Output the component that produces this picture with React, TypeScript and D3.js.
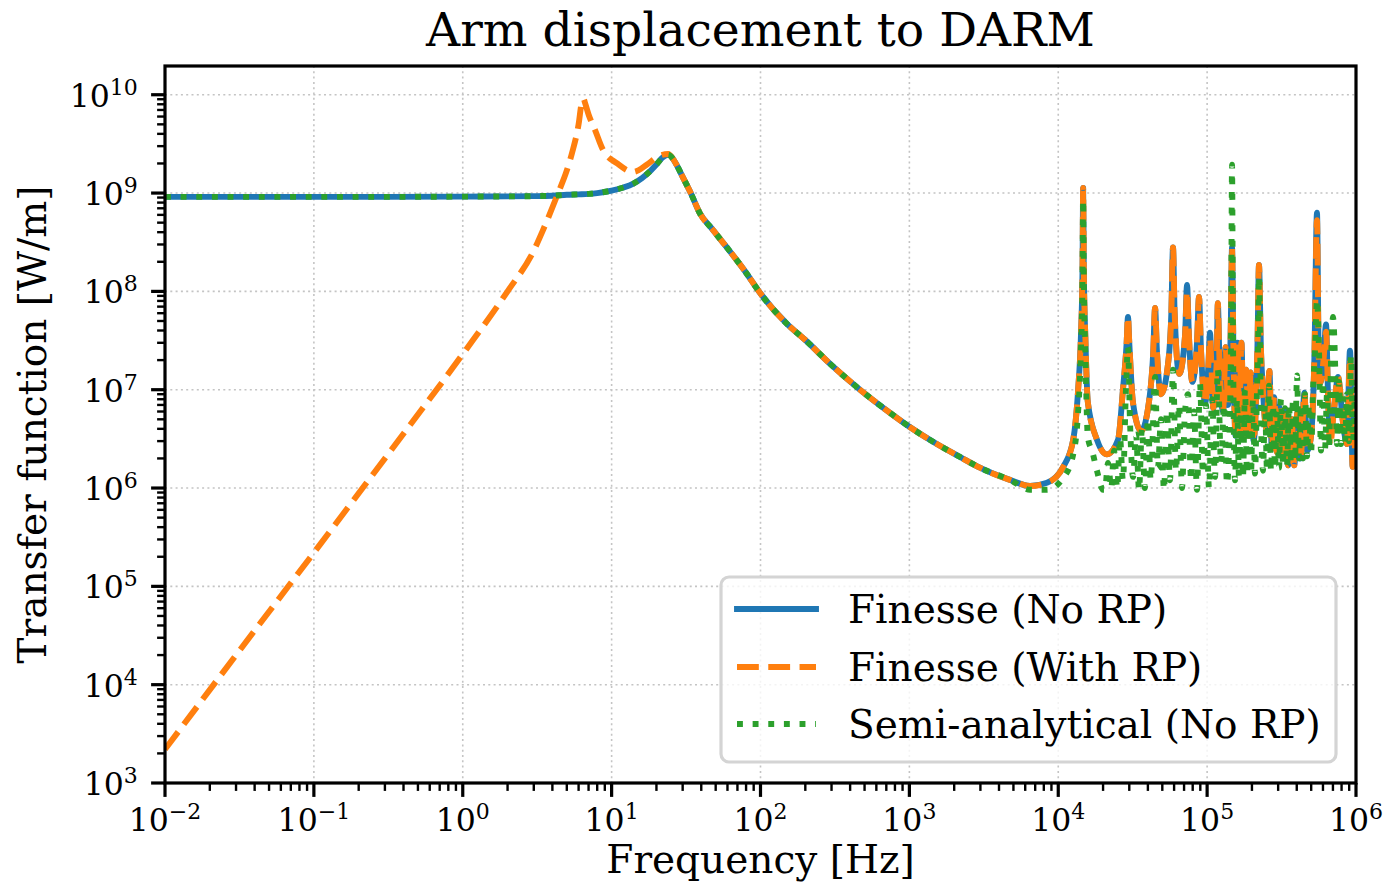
import React from "react";
import * as d3 from "d3";

// ---- data -------------------------------------------------------------

// Flat response below the arm resonance, shared by the two "No RP" models
const lowFreqHz = [0.01, 0.03, 0.1, 0.3, 1, 2, 3, 4, 5, 6, 7, 8, 10, 12, 14, 16, 18, 20, 22, 24];
const noRPLow = [9.15e8, 9.15e8, 9.15e8, 9.15e8, 9.2e8, 9.25e8, 9.3e8, 9.4e8, 9.6e8, 9.7e8, 9.8e8, 1.0e9, 1.06e9, 1.14e9, 1.25e9, 1.42e9, 1.65e9, 1.95e9, 2.3e9, 2.45e9];

// Radiation-pressure model: f^2 rise into the optical-spring peak
const rpFreqHz = [0.01, 0.03, 0.1, 0.3, 1, 2, 3, 3.46, 4.37, 5.0, 5.42, 6.0, 6.32, 6.5, 6.62, 7.0, 7.73, 8.75, 10.9, 13.9, 17.3, 20.5, 24];
const withRPLow = [2.2e3, 2.0e4, 2.2e5, 2.0e6, 2.3e7, 1.0e8, 2.6e8, 4.2e8, 1.0e9, 1.7e9, 2.56e9, 5.0e9, 8.5e9, 9.0e9, 8.3e9, 6.3e9, 4.4e9, 2.75e9, 2.0e9, 1.64e9, 1.95e9, 2.35e9, 2.5e9];

// Common roll-off above the resonance
const tailFreqHz = [26, 28, 30, 34, 39, 48, 60, 80, 100, 150, 200, 300, 466, 700, 1000, 1500, 2190, 3000, 4740];
const tailMag = [2.2e9, 1.8e9, 1.46e9, 1.0e9, 6.3e8, 4.2e8, 2.75e8, 1.55e8, 9.5e7, 4.7e7, 3.2e7, 1.78e7, 1.0e7, 6.2e6, 4.2e6, 2.85e6, 2.07e6, 1.6e6, 1.21e6];

// Higher-order mode comb of the Finesse models
const combFreqHz = [
  6460, 8400, 1.08e4, 1.26e4, 1.36e4, 1.42e4, 1.455e4, 1.47e4, 1.485e4, 1.52e4,
  1.58e4, 1.82e4, 2.12e4, 2.52e4, 2.72e4, 2.88e4, 2.94e4, 3.0e4, 3.18e4, 3.6e4,
  4.13e4, 4.35e4, 4.47e4, 4.6e4, 4.9e4, 5.5e4, 5.75e4, 5.9e4, 6.05e4, 6.5e4,
  7.1e4, 7.33e4, 7.55e4, 7.95e4, 8.55e4, 8.82e4, 9.1e4, 9.7e4, 1.02e5, 1.045e5,
  1.075e5, 1.10e5, 1.16e5, 1.18e5, 1.21e5, 1.28e5, 1.33e5, 1.38e5, 1.44e5, 1.47e5,
  1.50e5, 1.55e5, 1.60e5, 1.64e5, 1.70e5, 1.76e5, 1.83e5, 1.90e5, 1.96e5, 2.05e5,
  2.18e5, 2.23e5, 2.30e5, 2.37e5, 2.50e5, 2.62e5, 2.72e5, 2.82e5, 2.95e5, 3.05e5,
  3.20e5, 3.35e5, 3.50e5, 3.70e5, 3.85e5, 4.05e5, 4.25e5, 4.50e5, 4.70e5, 4.95e5,
  5.25e5, 5.47e5, 5.60e5, 5.73e5, 6.05e5, 6.29e5, 6.50e5, 6.69e5, 7.10e5, 7.57e5,
  8.18e5, 8.69e5, 9.11e5, 9.50e5, 1.0e6,
];
const noRPComb = [
  1.05e6, 1.13e6, 1.64e6, 3.1e6, 1.0e7, 3.5e7, 1.6e8, 1.13e9, 1.6e8, 3.5e7,
  7.5e6, 3.1e6, 2.2e6, 3.1e6, 1.0e7, 3.0e7, 5.5e7, 3.0e7, 7.3e6, 3.8e6,
  9.0e6, 2.5e7, 6.8e7, 2.5e7, 9.0e6, 2.0e7, 6.0e7, 2.8e8, 6.0e7, 1.45e7,
  3.5e7, 1.16e8, 3.5e7, 1.2e7, 3.0e7, 8.8e7, 2.5e7, 7.3e6, 1.8e7, 3.8e7,
  1.4e7, 6.5e6, 2.0e7, 7.6e7, 2.0e7, 6.0e6, 2.7e7, 7.0e6, 4.0e7, 2.8e8,
  3.0e7, 3.4e6, 3.0e7, 4.0e6, 3.0e7, 3.5e6, 1.6e7, 3.4e6, 1.5e7, 3.0e6,
  3.0e7, 1.86e8, 2.5e7, 1.0e7, 4.0e6, 1.55e7, 2.5e6, 8.4e6, 2.3e6, 6.7e6,
  2.1e6, 6.0e6, 1.7e6, 5.0e6, 1.7e6, 6.0e6, 2.0e6, 9.3e6, 2.4e6, 3.1e6,
  2.0e7, 6.3e8, 3.0e7, 1.17e7, 2.0e7, 4.6e7, 8.0e6, 3.6e6, 6.0e6, 1.35e7,
  4.6e6, 2.8e6, 2.5e7, 1.64e6, 4.0e6,
];
const withRPComb = [
  1.05e6, 1.13e6, 1.64e6, 3.1e6, 1.0e7, 3.5e7, 1.6e8, 1.13e9, 1.6e8, 3.5e7,
  7.5e6, 3.1e6, 2.2e6, 3.1e6, 1.0e7, 3.0e7, 5.5e7, 3.0e7, 7.3e6, 3.8e6,
  9.0e6, 2.5e7, 6.8e7, 2.5e7, 9.0e6, 2.0e7, 6.0e7, 2.8e8, 6.0e7, 1.45e7,
  3.5e7, 1.0e8, 3.5e7, 1.2e7, 3.0e7, 8.8e7, 2.5e7, 7.3e6, 1.8e7, 3.3e7,
  1.4e7, 6.5e6, 2.0e7, 7.6e7, 2.0e7, 6.0e6, 2.7e7, 7.0e6, 4.0e7, 2.8e8,
  3.0e7, 3.4e6, 3.0e7, 4.0e6, 3.0e7, 3.5e6, 1.6e7, 3.4e6, 1.5e7, 3.0e6,
  3.0e7, 1.86e8, 2.5e7, 1.0e7, 4.0e6, 1.55e7, 2.5e6, 8.4e6, 2.3e6, 6.7e6,
  2.1e6, 6.0e6, 1.7e6, 5.0e6, 1.7e6, 6.0e6, 2.0e6, 9.3e6, 2.4e6, 3.1e6,
  2.0e7, 5.3e8, 3.0e7, 1.17e7, 2.0e7, 3.9e7, 8.0e6, 2.7e6, 6.0e6, 1.35e7,
  4.6e6, 2.8e6, 2.1e7, 1.64e6, 4.0e6,
];

// Semi-analytical model above 5 kHz (fast beating between mode families)
const semiFreqHz = [
  6460, 8400, 1.08e4, 1.26e4, 1.36e4, 1.42e4, 1.455e4, 1.47e4, 1.485e4, 1.52e4,
  1.58e4, 1.70e4, 1.82e4, 2.0e4,
  2.06e4, 2.16e4, 2.27e4, 2.37e4, 2.49e4, 2.60e4, 2.72e4, 2.85e4, 2.94e4, 3.03e4,
  3.18e4, 3.33e4, 3.49e4, 3.65e4, 3.82e4, 4.0e4, 4.18e4, 4.47e4, 4.67e4, 4.9e4,
  5.13e4, 5.37e4, 5.63e4, 5.90e4, 6.18e4, 6.47e4, 6.78e4, 7.10e4, 7.44e4, 7.80e4,
  8.16e4, 8.55e4, 8.95e4, 9.38e4, 9.82e4, 1.03e5, 1.08e5, 1.13e5, 1.18e5, 1.24e5,
  1.30e5, 1.36e5, 1.42e5, 1.45e5, 1.47e5, 1.49e5,
  1.539e5, 1.588e5, 1.637e5, 1.689e5, 1.742e5, 1.796e5, 1.853e5, 1.911e5, 1.971e5, 2.033e5,
  2.097e5, 2.163e5, 2.20e5, 2.231e5, 2.27e5, 2.301e5, 2.373e5, 2.448e5, 2.525e5, 2.604e5,
  2.686e5, 2.770e5, 2.857e5, 2.947e5, 3.040e5, 3.135e5, 3.234e5, 3.335e5, 3.440e5, 3.548e5,
  3.660e5, 3.775e5, 3.893e5, 4.016e5, 4.142e5, 4.272e5, 4.406e5, 4.544e5, 4.687e5, 4.835e5,
  4.986e5, 5.143e5, 5.305e5, 5.471e5, 5.643e5, 5.821e5, 6.003e5, 6.192e5, 6.387e5, 6.587e5,
  6.794e5, 7.008e5, 7.228e5, 7.455e5, 7.690e5, 7.931e5, 8.180e5, 8.438e5, 8.703e5, 8.976e5,
  9.258e5, 9.549e5, 9.85e5, 1.0e6,
];
const semiComb = [
  9.6e5, 9.6e5, 1.27e6, 2.2e6, 6.0e6, 2.5e7, 1.3e8, 8.5e8, 1.3e8, 2.5e7,
  3.3e6, 2.3e6, 1.5e6, 9.6e5,
  9.6e5, 1.8e6, 1.0e6, 2.4e6, 1.0e6, 3.2e6, 1.2e6, 1.0e7, 2.7e7, 5.0e6,
  1.3e6, 3.5e6, 9.6e5, 4.0e6, 1.0e6, 5.0e6, 1.2e6, 1.35e7, 1.6e6, 5.0e6,
  9.6e5, 6.0e6, 1.2e6, 1.6e7, 1.5e6, 7.0e6, 1.0e6, 6.0e6, 9.0e6, 1.2e6,
  6.0e6, 9.6e5, 1.17e7, 1.4e6, 7.0e6, 1.0e6, 8.0e6, 1.3e6, 1.6e7, 1.8e6,
  7.0e6, 1.1e6, 5.0e6, 5.0e7, 1.94e9, 5.0e7,
  1.2e6, 8.0e6, 1.3e6, 6.0e6, 1.3e6, 1.0e7, 1.4e6, 6.0e6, 1.4e6, 8.0e6,
  1.4e6, 1.0e7, 3.0e7, 1.4e8, 3.0e7, 5.0e6, 1.5e6, 7.0e6, 1.5e6, 1.1e7,
  1.5e6, 7.0e6, 1.6e6, 6.0e6, 1.6e6, 8.0e6, 1.7e6, 6.5e6, 1.7e6, 7.0e6,
  1.8e6, 8.0e6, 1.9e6, 1.4e7, 2.0e6, 7.0e6, 2.0e6, 9.0e6, 2.1e6, 7.0e6,
  2.2e6, 1.0e7, 2.5e7, 8.2e7, 2.5e7, 2.4e6, 1.2e7, 2.5e6, 9.0e6, 2.6e6,
  2.0e7, 5.5e7, 2.0e7, 2.8e6, 1.2e7, 2.8e6, 8.0e6, 2.9e6, 9.0e6, 3.0e6,
  2.2e7, 3.0e6, 1.0e7, 5.0e6,
];

// Axis ticks
const xMajorExp = [-2, -1, 0, 1, 2, 3, 4, 5, 6];
const yMajorExp = [3, 4, 5, 6, 7, 8, 9, 10];
const minorMultipliers = [2, 3, 4, 5, 6, 7, 8, 9];

const legendLabels = ["Finesse (No RP)", "Finesse (With RP)", "Semi-analytical (No RP)"];

// ---- layout / style ---------------------------------------------------

const W = 1384;
const H = 890;
const PLOT = { left: 165, right: 1356, top: 66, bottom: 783 };
const X_DOMAIN: [number, number] = [1e-2, 1e6];
const Y_DOMAIN: [number, number] = [1e3, 1.96e10];
const FONT = "'DejaVu Serif', serif";
const LW = 5.9;

const COLORS = { blue: "#1f77b4", orange: "#ff7f0e", green: "#2ca02c" };

type Pt = [number, number];
const zip = (f: number[], v: number[]): Pt[] => f.map((fi, i) => [fi, v[i]] as Pt);

const styles = [
  { color: COLORS.blue, dash: undefined as string | undefined, cap: "square" },
  { color: COLORS.orange, dash: `${3.7 * LW} ${1.6 * LW}`, cap: "butt" },
  { color: COLORS.green, dash: `${1 * LW} ${1.65 * LW}`, cap: "butt" },
];

function Sup({ exp }: { exp: number }) {
  const s = exp < 0 ? `\u2212${Math.abs(exp)}` : `${exp}`;
  return (
    <tspan dy={-12} fontSize={22}>
      {s}
    </tspan>
  );
}

export default function App() {
  const x = d3.scaleLog().domain(X_DOMAIN).range([PLOT.left, PLOT.right]);
  const y = d3.scaleLog().domain(Y_DOMAIN).range([PLOT.bottom, PLOT.top]);
  const line = d3
    .line<Pt>()
    .x((d) => x(d[0]))
    .y((d) => y(d[1]))
    .curve(d3.curveMonotoneX);

  const noRP = [...zip(lowFreqHz, noRPLow), ...zip(tailFreqHz, tailMag), ...zip(combFreqHz, noRPComb)];
  const withRP = [...zip(rpFreqHz, withRPLow), ...zip(tailFreqHz, tailMag), ...zip(combFreqHz, withRPComb)];
  const semi = [...zip(lowFreqHz, noRPLow), ...zip(tailFreqHz, tailMag), ...zip(semiFreqHz, semiComb)];
  const data = [noRP, withRP, semi];

  const xMinor: number[] = [];
  for (let e = -2; e < 6; e++) minorMultipliers.forEach((m) => xMinor.push(m * Math.pow(10, e)));
  const yMinor: number[] = [];
  for (let e = 3; e <= 10; e++)
    minorMultipliers.forEach((m) => {
      const v = m * Math.pow(10, e);
      if (v <= Y_DOMAIN[1]) yMinor.push(v);
    });

  const legend = { x: 721, y: 577, w: 615, h: 185, rowY: [609, 667, 724], lineX0: 737, lineX1: 816, textX: 848 };

  return (
    <svg
      width={W}
      height={H}
      style={{ position: "fixed", left: 0, top: 0, background: "#fff" }}
      fontFamily={FONT}
    >
      <rect width={W} height={H} fill="#fff" />
      <defs>
        <clipPath id="plot-clip">
          <rect x={PLOT.left} y={PLOT.top} width={PLOT.right - PLOT.left} height={PLOT.bottom - PLOT.top} />
        </clipPath>
      </defs>

      {/* grid */}
      <g stroke="#c4c4c4" strokeWidth={1.6} strokeDasharray="2 3.3">
        {xMajorExp.map((e) => (
          <line key={`gx${e}`} x1={x(Math.pow(10, e))} x2={x(Math.pow(10, e))} y1={PLOT.top} y2={PLOT.bottom} />
        ))}
        {yMajorExp.map((e) => (
          <line key={`gy${e}`} y1={y(Math.pow(10, e))} y2={y(Math.pow(10, e))} x1={PLOT.left} x2={PLOT.right} />
        ))}
      </g>

      {/* curves */}
      <g clipPath="url(#plot-clip)" fill="none" strokeLinejoin="round">
        {data.map((d, i) => (
          <path
            key={i}
            d={line(d) || ""}
            stroke={styles[i].color}
            strokeWidth={LW}
            strokeDasharray={styles[i].dash}
            strokeLinecap={styles[i].cap as any}
          />
        ))}
      </g>

      {/* spines */}
      <rect
        x={PLOT.left}
        y={PLOT.top}
        width={PLOT.right - PLOT.left}
        height={PLOT.bottom - PLOT.top}
        fill="none"
        stroke="#000"
        strokeWidth={3.2}
      />

      {/* ticks */}
      <g stroke="#000">
        {xMajorExp.map((e) => (
          <line key={`xt${e}`} x1={x(Math.pow(10, e))} x2={x(Math.pow(10, e))} y1={PLOT.bottom} y2={PLOT.bottom + 13.9} strokeWidth={3.2} />
        ))}
        {xMinor.map((v, i) => (
          <line key={`xm${i}`} x1={x(v)} x2={x(v)} y1={PLOT.bottom} y2={PLOT.bottom + 7.9} strokeWidth={2.4} />
        ))}
        {yMajorExp.map((e) => (
          <line key={`yt${e}`} y1={y(Math.pow(10, e))} y2={y(Math.pow(10, e))} x1={PLOT.left} x2={PLOT.left - 13.9} strokeWidth={3.2} />
        ))}
        {yMinor.map((v, i) => (
          <line key={`ym${i}`} y1={y(v)} y2={y(v)} x1={PLOT.left} x2={PLOT.left - 7.9} strokeWidth={2.4} />
        ))}
      </g>

      {/* tick labels */}
      <g fontSize={31.5} fill="#000">
        {xMajorExp.map((e) => (
          <text key={`xl${e}`} x={x(Math.pow(10, e))} y={PLOT.bottom + 48} textAnchor="middle">
            10
            <Sup exp={e} />
          </text>
        ))}
        {yMajorExp.map((e) => (
          <text key={`yl${e}`} x={137.8} y={y(Math.pow(10, e)) + 12} textAnchor="end">
            10
            <Sup exp={e} />
          </text>
        ))}
      </g>

      {/* axis labels and title */}
      <text x={(PLOT.left + PLOT.right) / 2} y={873} textAnchor="middle" fontSize={39}>
        Frequency [Hz]
      </text>
      <text transform={`translate(46,${(PLOT.top + PLOT.bottom) / 2}) rotate(-90)`} textAnchor="middle" fontSize={39}>
        Transfer function [W/m]
      </text>
      <text x={(PLOT.left + PLOT.right) / 2} y={46} textAnchor="middle" fontSize={47.2}>
        Arm displacement to DARM
      </text>

      {/* legend */}
      <g>
        <rect
          x={legend.x}
          y={legend.y}
          width={legend.w}
          height={legend.h}
          rx={8}
          fill="#fff"
          fillOpacity={0.8}
          stroke="#d4d4d4"
          strokeWidth={3.2}
        />
        {legendLabels.map((label, i) => (
          <g key={label}>
            <line
              x1={legend.lineX0}
              x2={legend.lineX1}
              y1={legend.rowY[i]}
              y2={legend.rowY[i]}
              stroke={styles[i].color}
              strokeWidth={LW}
              strokeDasharray={styles[i].dash}
              strokeLinecap={styles[i].cap as any}
            />
            <text x={legend.textX} y={legend.rowY[i] + 14} fontSize={39}>
              {label}
            </text>
          </g>
        ))}
      </g>
    </svg>
  );
}
